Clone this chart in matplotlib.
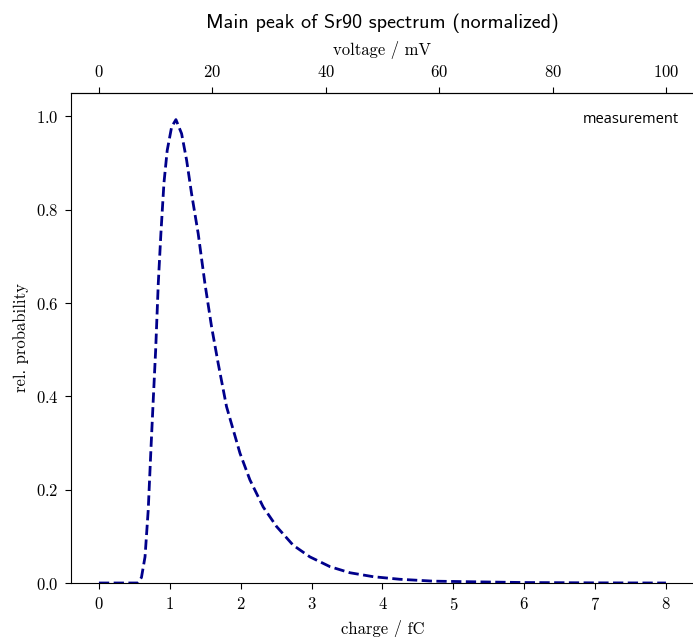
import matplotlib
matplotlib.use("Agg")
import matplotlib.pyplot as plt

# charge in fC
charge = [0.0, 0.3, 0.55, 0.6, 0.65, 0.695, 0.733, 0.766, 0.80, 0.837, 0.874,
          0.917, 0.963, 1.025, 1.086, 1.166, 1.237, 1.307, 1.40, 1.495, 1.589,
          1.683, 1.80, 1.99, 2.13, 2.317, 2.506, 2.74, 2.976, 3.26, 3.54,
          3.87, 4.245, 4.71, 5.19, 6.0, 7.0, 8.0]
prob = [0.0, 0.0, 0.0, 0.012, 0.056, 0.156, 0.285, 0.392, 0.499, 0.642, 0.749,
        0.857, 0.927, 0.977, 0.993, 0.963, 0.906, 0.834, 0.749, 0.642, 0.549,
        0.470, 0.378, 0.278, 0.221, 0.163, 0.121, 0.081, 0.056, 0.035, 0.022,
        0.0135, 0.008, 0.004, 0.0028, 0.001, 0.0003, 0.0]

mv_per_fc = 12.5

plt.rcParams['font.family'] = 'serif'
plt.rcParams['font.serif'] = ['cmr10']
plt.rcParams['axes.formatter.use_mathtext'] = True
plt.rcParams['font.size'] = 12
plt.rcParams['xtick.major.size'] = 4.5
plt.rcParams['ytick.major.size'] = 4.5
plt.rcParams['xtick.major.pad'] = 5
plt.rcParams['ytick.major.pad'] = 4

fig = plt.figure(figsize=(6.93, 6.37), dpi=100)
ax = fig.add_axes([70.6 / 693, 54 / 637, 623.7 / 693, 490 / 637])

ax.plot(charge, prob, '--', color='darkblue', lw=2, label='measurement')
ax.set_ylim(0, 1.05)
ax.set_xlabel('charge / fC', labelpad=5)
ax.set_ylabel('rel. probability', labelpad=5)

top = ax.secondary_xaxis('top', functions=(lambda q: q * mv_per_fc,
                                           lambda v: v / mv_per_fc))
top.set_xticks([0, 20, 40, 60, 80, 100])
top.set_xlabel('voltage / mV', labelpad=6)
ax.set_title('Main peak of Sr90 spectrum (normalized)', family='cmss10',
             fontsize=14.5, pad=10)

leg = ax.legend(loc='upper right', frameon=False, handlelength=0,
                handletextpad=0, borderaxespad=0.9,
                bbox_to_anchor=(1 + 4 / 623.7, 1.0),
                prop={'family': 'Open Sans', 'size': 10.5})
for h in leg.legend_handles:
    h.set_visible(False)

fig.savefig('out.png', dpi=100)
